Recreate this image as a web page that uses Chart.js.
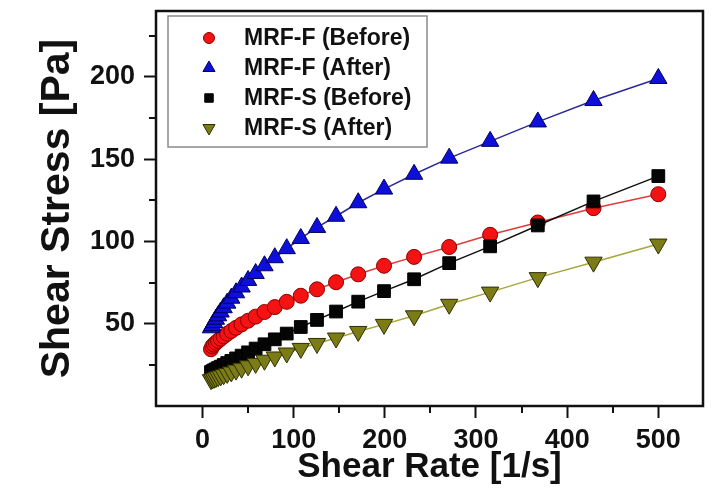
<!DOCTYPE html>
<html>
<head>
<title>Shear Stress vs Shear Rate</title>
<script src="https://cdn.jsdelivr.net/npm/chart.js"></script>
<style>
  body { margin: 0; background: white; }
  canvas { display: block; }
</style>
</head>
<body>
<canvas id="chart" width="714" height="496"></canvas>
<script>
// shear rate sweep [1/s]
const shearRate = [9.3, 10.8, 12.6, 14.7, 17.1, 19.9, 23.2, 27.1, 31.6, 36.8, 42.9, 50, 58.3, 68, 79.3, 92.4,
  107.8, 125.6, 146.5, 170.8, 199.1, 232.1, 270.6, 315.5, 367.8, 428.9, 500];

// shear stress [Pa]
const mrfFBefore = [34.5, 36.3, 37.3, 38.4, 39.6, 40.9, 42.3, 43.9, 45.6, 47.5, 49.6, 51.8, 54.3, 57.1, 60.1, 63.3,
  67.0, 70.9, 75.2, 80.0, 85.2, 90.6, 96.6, 104.0, 111.5, 120.2, 128.7];
const mrfFAfter = [47.5, 48.8, 50.7, 52.7, 54.8, 57.1, 59.7, 62.5, 65.5, 68.8, 72.3, 76.3, 80.5, 85.2, 90.1, 95.6,
  101.8, 108.5, 115.3, 123.5, 131.8, 140.8, 150.6, 160.8, 172.6, 185.6, 199.0];
const mrfSBefore = [20.6, 21.1, 21.7, 22.3, 23.1, 23.9, 24.9, 26.1, 27.4, 28.9, 30.6, 32.6, 34.9, 37.5, 40.5, 44.0,
  48.0, 52.3, 57.4, 63.4, 69.8, 77.0, 86.8, 97.0, 109.7, 124.3, 139.7];
const mrfSAfter = [16.0, 16.4, 16.8, 17.2, 17.8, 18.3, 19.0, 19.8, 20.7, 21.8, 23.0, 24.4, 25.9, 27.8, 29.8, 32.2,
  35.0, 38.0, 41.3, 45.3, 49.6, 54.8, 61.8, 69.2, 78.0, 87.4, 98.4];

const seriesLabels = ['MRF-F (Before)', 'MRF-F (After)', 'MRF-S (Before)', 'MRF-S (After)'];

const xTicks = [0, 100, 200, 300, 400, 500];
const xMinorTicks = [50, 150, 250, 350, 450];
const yTicks = [50, 100, 150, 200];
const yMinorTicks = [25, 75, 125, 175, 225];

const FONT = '"Liberation Sans", Arial, sans-serif';

function pts(values) {
  return shearRate.map((x, i) => ({ x: x, y: values[i] }));
}

// minor ticks, plot frame and the boxed legend inside the plot
const framePlugin = {
  id: 'frame',
  afterDraw(chart) {
    const ctx = chart.ctx;
    const a = chart.chartArea;
    const sx = chart.scales.x, sy = chart.scales.y;
    ctx.save();
    ctx.strokeStyle = '#111';
    ctx.lineWidth = 2;
    ctx.beginPath();
    xMinorTicks.forEach(v => {
      const px = Math.round(sx.getPixelForValue(v));
      ctx.moveTo(px, a.bottom); ctx.lineTo(px, a.bottom + 7);
    });
    yMinorTicks.forEach(v => {
      const py = Math.round(sy.getPixelForValue(v));
      ctx.moveTo(a.left, py); ctx.lineTo(a.left - 7, py);
    });
    ctx.stroke();
    ctx.lineWidth = 2.5;
    ctx.strokeRect(a.left, a.top, a.right - a.left, a.bottom - a.top);

    // legend
    const lx = a.left + 12, ly = a.top + 5;
    ctx.lineWidth = 1.5;
    ctx.strokeStyle = '#8a8a8a';
    ctx.strokeRect(lx, ly, 259, 131);
    ctx.font = 'bold 23px ' + FONT;
    ctx.textBaseline = 'middle';
    ctx.textAlign = 'left';
    chart.data.datasets.forEach((ds, i) => {
      const cy = ly + 22 + i * 30;
      ctx.fillStyle = ds.pointBackgroundColor;
      ctx.strokeStyle = ds.pointBorderColor;
      ctx.lineWidth = 1;
      Chart.helpers.drawPoint(ctx, {
        pointStyle: ds.pointStyle,
        radius: ds.legendRadius,
        rotation: ds.pointRotation || 0,
        borderWidth: 1
      }, lx + 41, cy);
      ctx.fillStyle = '#111';
      ctx.fillText(ds.label, lx + 76, cy + 1);
    });
    ctx.restore();
  }
};

function noPad(s) {
  s.paddingTop = 0; s.paddingBottom = 0; s.paddingLeft = 0; s.paddingRight = 0;
}

new Chart(document.getElementById('chart'), {
  type: 'line',
  data: {
    datasets: [
      {
        label: seriesLabels[0],
        data: pts(mrfFBefore),
        borderColor: '#e23a3a',
        borderWidth: 1.5,
        pointStyle: 'circle',
        pointRadius: 7.5,
        legendRadius: 5.5,
        pointBackgroundColor: '#f41212',
        pointBorderColor: '#8a0000',
        pointBorderWidth: 1,
        order: 3
      },
      {
        label: seriesLabels[1],
        data: pts(mrfFAfter),
        borderColor: '#2a2a96',
        borderWidth: 1.5,
        pointStyle: 'triangle',
        pointRadius: 10,
        legendRadius: 7,
        pointBackgroundColor: '#0f0fdc',
        pointBorderColor: '#00005a',
        pointBorderWidth: 1,
        order: 2
      },
      {
        label: seriesLabels[2],
        data: pts(mrfSBefore),
        borderColor: '#111',
        borderWidth: 1.5,
        pointStyle: 'rect',
        pointRadius: 9,
        legendRadius: 6,
        pointBackgroundColor: '#050505',
        pointBorderColor: '#000',
        pointBorderWidth: 1,
        order: 1
      },
      {
        label: seriesLabels[3],
        data: pts(mrfSAfter),
        borderColor: '#a6a63a',
        borderWidth: 1.5,
        pointStyle: 'triangle',
        pointRotation: 180,
        pointRadius: 10,
        legendRadius: 7,
        pointBackgroundColor: '#7c7c16',
        pointBorderColor: '#2e2e00',
        pointBorderWidth: 1,
        order: 0
      }
    ]
  },
  options: {
    responsive: false,
    animation: false,
    layout: { padding: { left: 0, top: 8, right: 9, bottom: 0 } },
    plugins: { legend: { display: false }, tooltip: { enabled: false } },
    scales: {
      x: {
        type: 'linear',
        min: -51,
        max: 549,
        afterBuildTicks: s => { s.ticks = xTicks.map(v => ({ value: v })); },
        afterFit: s => { s.height = 90; noPad(s); },
        grid: { drawOnChartArea: false, tickLength: 12, tickWidth: 2, tickColor: '#111', color: '#111' },
        border: { display: false },
        ticks: { color: '#111', padding: 6, maxRotation: 0, font: { family: FONT, size: 27, weight: 'bold' } },
        title: { display: true, text: 'Shear Rate [1/s]', color: '#111', padding: { top: 0, bottom: 8 },
          font: { family: FONT, size: 35, weight: 'bold' } }
      },
      y: {
        type: 'linear',
        min: 0,
        max: 240,
        afterBuildTicks: s => { s.ticks = yTicks.map(v => ({ value: v })); },
        afterFit: s => { s.width = 156; noPad(s); },
        grid: { drawOnChartArea: false, tickLength: 12, tickWidth: 2, tickColor: '#111', color: '#111' },
        border: { display: false },
        ticks: { color: '#111', padding: 9, font: { family: FONT, size: 27, weight: 'bold' } },
        title: { display: true, text: 'Shear Stress [Pa]', color: '#111', padding: { top: 33, bottom: 0 },
          font: { family: FONT, size: 41, weight: 'bold' } }
      }
    }
  },
  plugins: [framePlugin]
});
</script>
</body>
</html>
